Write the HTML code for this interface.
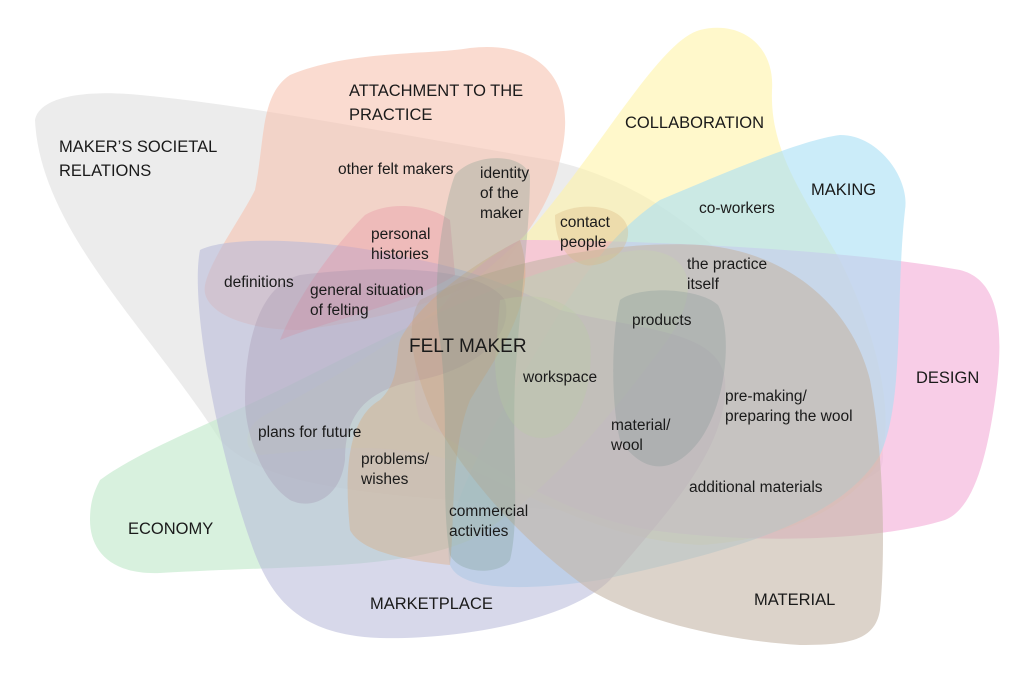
<!DOCTYPE html>
<html><head><meta charset="utf-8"><style>
html,body{margin:0;padding:0;background:#fff;}
svg{display:block;}
text{font-family:"Liberation Sans",sans-serif;fill:#1a1a1a;}
.h{font-size:16.5px;}
.l{font-size:15.5px;}
</style></head><body>
<svg width="1024" height="676" viewBox="0 0 1024 676" xmlns="http://www.w3.org/2000/svg">
<path d="M35,120 C40,95 90,90 140,95 C250,105 400,135 550,160 C640,180 700,230 760,290 C820,360 900,430 880,470 C820,520 600,520 450,500 C330,490 260,480 220,440 C150,330 40,230 35,120 Z" fill="#e4e4e4" opacity="0.7"/>
<path d="M290,75 C350,50 430,55 470,48 C540,40 580,80 560,160 C550,210 520,240 500,270 C450,300 380,320 300,330 C240,330 200,310 205,285 C210,260 240,220 255,190 C265,140 260,95 290,75 Z" fill="#f7c3b0" opacity="0.6"/>
<path d="M700,30 C740,20 775,45 772,90 C770,150 800,190 840,260 C880,340 895,420 880,460 C850,510 780,540 700,545 C600,540 520,490 450,460 C380,440 320,450 260,455 C240,450 245,425 265,415 C350,370 450,310 530,230 C600,150 660,40 700,30 Z" fill="#fff4a8" opacity="0.6"/>
<path d="M520,240 C650,240 850,250 960,270 C1000,280 1005,330 995,400 C985,470 970,510 945,520 C880,540 760,545 650,530 C560,515 480,460 420,420 C400,360 440,280 520,240 Z" fill="#f5b8dd" opacity="0.7"/>
<path d="M660,200 C720,175 800,140 840,135 C880,135 910,180 905,210 C895,300 905,400 880,455 C840,520 740,550 600,580 C520,592 460,590 450,565 C440,520 480,450 520,380 C560,310 600,240 660,200 Z" fill="#a8e0f5" opacity="0.6"/>
<path d="M100,480 C140,450 220,420 300,380 C420,320 540,260 640,250 C700,250 700,300 660,350 C600,430 540,500 470,540 C400,570 300,565 160,573 C110,575 90,550 90,520 C90,500 95,490 100,480 Z" fill="#c8ebd0" opacity="0.7"/>
<path d="M200,250 C230,235 330,238 420,260 C480,272 520,290 560,310 C640,330 720,330 725,380 C730,450 660,520 610,580 C570,620 460,640 380,638 C300,635 270,600 250,540 C215,440 190,300 200,250 Z" fill="#b6b8d9" opacity="0.55"/>
<path d="M420,300 C500,260 620,240 700,245 C780,250 850,300 870,380 C885,460 885,560 880,610 C875,640 850,645 800,645 C720,640 640,620 590,590 C520,540 470,480 440,430 C420,390 400,330 420,300 Z" fill="#c4b6a6" opacity="0.6"/>
<path d="M365,215 C390,200 430,205 450,220 L455,275 C420,300 330,320 280,340 C300,290 340,240 365,215 Z" fill="#e890a0" opacity="0.35"/>
<path d="M300,275 C380,265 480,265 505,300 C515,340 470,370 420,380 C360,390 345,420 345,460 C340,500 310,510 290,500 C260,480 245,430 245,400 C245,340 260,285 300,275 Z" fill="#a090a8" opacity="0.3"/>
<path d="M400,340 C420,300 480,260 520,240 C540,300 500,350 470,400 C450,450 455,520 450,565 C400,560 360,550 350,530 C345,480 345,420 380,400 C400,380 395,360 400,340 Z" fill="#e0a060" opacity="0.3"/>
<path d="M455,175 C470,155 520,150 530,175 C530,230 520,300 515,380 C512,450 520,520 510,560 C500,575 460,575 450,555 C440,500 450,420 440,340 C430,280 445,200 455,175 Z" fill="#7a9a90" opacity="0.3"/>
<path d="M620,300 C640,285 700,288 718,305 C732,330 728,400 700,440 C670,480 640,470 620,440 C610,400 612,330 620,300 Z" fill="#8a9a9a" opacity="0.35"/>
<path d="M500,300 C540,290 580,300 590,340 C595,400 570,440 540,438 C510,436 495,400 495,360 Z" fill="#b8d0a0" opacity="0.25"/>
<path d="M555,215 C580,200 625,205 628,230 C630,255 600,268 585,265 C565,260 555,240 555,215 Z" fill="#d9b880" opacity="0.35"/>

<text class="h" x="59" y="152">MAKER’S SOCIETAL</text>
<text class="h" x="59" y="176">RELATIONS</text>
<text class="h" x="349" y="96">ATTACHMENT TO THE</text>
<text class="h" x="349" y="120">PRACTICE</text>
<text class="h" x="625" y="128">COLLABORATION</text>
<text class="h" x="811" y="195">MAKING</text>
<text class="h" x="916" y="383">DESIGN</text>
<text class="h" x="128" y="534">ECONOMY</text>
<text class="h" x="370" y="609">MARKETPLACE</text>
<text class="h" x="754" y="605">MATERIAL</text>
<text x="409" y="352" style="font-size:19px">FELT MAKER</text>

<text class="l" x="338" y="174">other felt makers</text>
<text class="l" x="480" y="178">identity</text>
<text class="l" x="480" y="198">of the</text>
<text class="l" x="480" y="218">maker</text>
<text class="l" x="560" y="227">contact</text>
<text class="l" x="560" y="247">people</text>
<text class="l" x="699" y="213">co-workers</text>
<text class="l" x="371" y="239">personal</text>
<text class="l" x="371" y="259">histories</text>
<text class="l" x="224" y="287">definitions</text>
<text class="l" x="310" y="295">general situation</text>
<text class="l" x="310" y="315">of felting</text>
<text class="l" x="687" y="269">the practice</text>
<text class="l" x="687" y="289">itself</text>
<text class="l" x="632" y="325">products</text>
<text class="l" x="523" y="382">workspace</text>
<text class="l" x="725" y="401">pre-making/</text>
<text class="l" x="725" y="421">preparing the wool</text>
<text class="l" x="611" y="430">material/</text>
<text class="l" x="611" y="450">wool</text>
<text class="l" x="258" y="437">plans for future</text>
<text class="l" x="361" y="464">problems/</text>
<text class="l" x="361" y="484">wishes</text>
<text class="l" x="689" y="492">additional materials</text>
<text class="l" x="449" y="516">commercial</text>
<text class="l" x="449" y="536">activities</text>
</svg>
</body></html>
